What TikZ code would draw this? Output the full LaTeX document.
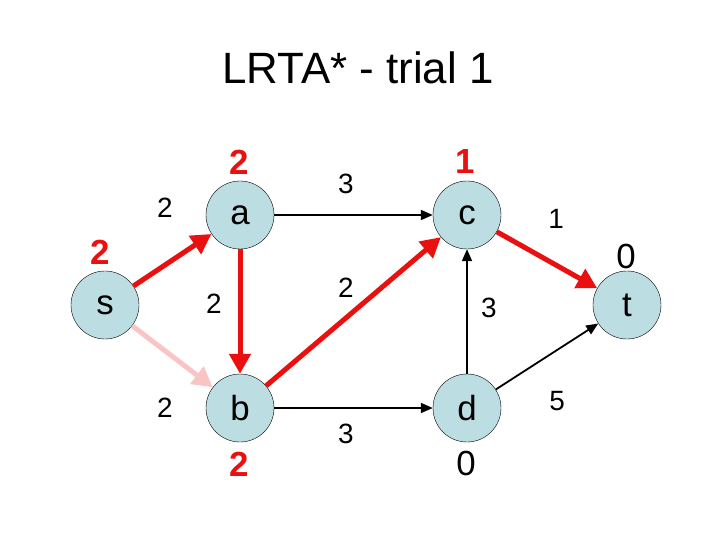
\documentclass[tikz,border=0pt]{standalone}
\usepackage{fontspec}
\setmainfont{Liberation Sans}
\usetikzlibrary{arrows.meta, positioning}
\definecolor{nodeblue}{HTML}{BCDDE2}
\definecolor{pathred}{HTML}{EA1010}
\definecolor{triedpink}{HTML}{F9C4C4}
\tikzset{
  vertex/.style={circle, draw=black, thin, fill=nodeblue, minimum size=68bp, inner sep=0pt, font=\fontsize{35}{35}\selectfont},
  cost/.style={font=\fontsize{28}{28}\selectfont},
  heur/.style={font=\fontsize{35}{35}\selectfont\bfseries, text=pathred},
  heurz/.style={font=\fontsize{35}{35}\selectfont},
  redge/.style={pathred, line width=5bp, -{Triangle[length=20bp,width=21bp]}},
  pedge/.style={triedpink, line width=5bp, -{Triangle[length=20bp,width=21bp]}},
  bedge/.style={black, line width=1.8bp, -{Triangle[length=12bp,width=10bp]}}
}
\begin{document}
\begin{tikzpicture}[x=1bp, y=-1bp]
  \useasboundingbox (0,0) rectangle (720,540);
  \node (title) at (358,68) {\fontsize{44}{44}\selectfont LRTA* - trial 1};
  % graph
  \node[vertex] (s) at (105,305) {s};
  \node[vertex] (a) at (240,215) {a};
  \node[vertex] (b) at (240,408) {b};
  \node[vertex] (c) at (467,215) {c};
  \node[vertex] (d) at (467,408) {d};
  \node[vertex] (t) at (627,305) {t};
  \draw[bedge](a)--(c);
  \draw[bedge](b)--(d);
  \draw[bedge](d)--(c);
  \draw[bedge](d)--(t);
  \draw[pedge](s)--(b);
  \draw[redge](s)--(a);
  \draw[redge](a)--(b);
  \draw[redge](b)--(c);
  \draw[redge](c)--(t);
  % costs
  \node[cost] (csa) at (165,208) {2};
  \node[cost] (cab) at (214,304) {2};
  \node[cost] (csb) at (165,408) {2};
  \node[cost] (cac) at (346,184) {3};
  \node[cost] (cbc) at (346,288) {2};
  \node[cost] (cbd) at (346,434) {3};
  \node[cost] (cct) at (556,219) {1};
  \node[cost] (cdc) at (489,308) {3};
  \node[cost] (cdt) at (557,401) {5};
  % heuristic values
  \node[heur] (hs) at (100,252) {2};
  \node[heur] (ha) at (239,162) {2};
  \node[heur] (hb) at (239,464) {2};
  \node[heur] (hc) at (465,162) {1};
  \node[heurz] (ht) at (626,256) {0};
  \node[heurz] (hd) at (466,463) {0};
\end{tikzpicture}
\end{document}
